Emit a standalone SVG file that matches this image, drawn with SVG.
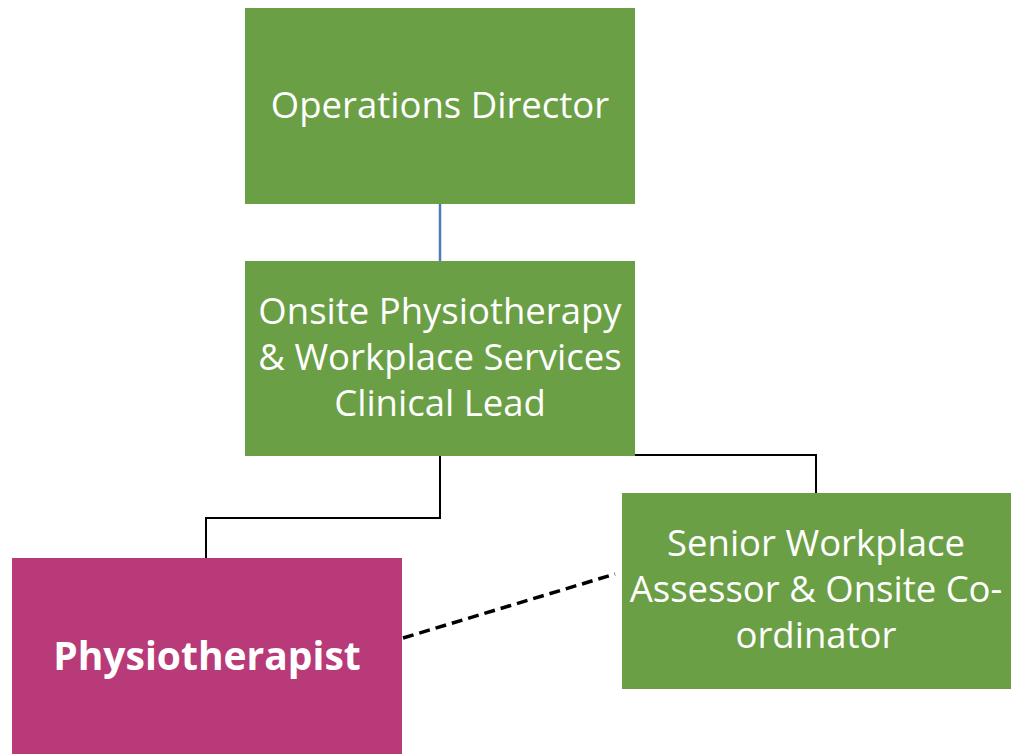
<svg xmlns="http://www.w3.org/2000/svg" width="1013" height="756" viewBox="0 0 1013 756">
<style>
.g{fill:#6B9F45}
.p{fill:#B83A78}
.t{font-family:"Open Sans","Liberation Sans",sans-serif;font-size:36.5px;fill:#fff;text-anchor:middle}
.b{font-family:"Open Sans","Liberation Sans",sans-serif;font-size:39px;font-weight:bold;fill:#fff;text-anchor:middle}
.c{fill:none;stroke:#000;stroke-width:2}
</style>
<rect width="1013" height="756" fill="#fff"/>
<g id="connectors">
<line x1="440" y1="204" x2="440" y2="261" stroke="#4A7EBB" stroke-width="2.5"/>
<path class="c" d="M440 456V518H206V558"/>
<path class="c" d="M635 455H816V493"/>
<line x1="403" y1="638" x2="615" y2="574" stroke="#000" stroke-width="3.5" stroke-dasharray="11,6"/>
</g>
<g id="operations-director">
<rect class="g" x="245" y="8" width="390" height="196"/>
<text class="t" x="440" y="118">Operations Director</text>
</g>
<g id="clinical-lead">
<rect class="g" x="245" y="261" width="390" height="195"/>
<text class="t" x="440" y="324">Onsite Physiotherapy</text>
<text class="t" x="440" y="370">&amp; Workplace Services</text>
<text class="t" x="440" y="416">Clinical Lead</text>
</g>
<g id="physiotherapist">
<rect class="p" x="12" y="558" width="390" height="196"/>
<text class="b" x="207" y="670">Physiotherapist</text>
</g>
<g id="senior-assessor">
<rect class="g" x="622" y="493" width="389" height="196"/>
<text class="t" x="816" y="556">Senior Workplace</text>
<text class="t" x="816" y="602">Assessor &amp; Onsite Co-</text>
<text class="t" x="816" y="648">ordinator</text>
</g>
</svg>
